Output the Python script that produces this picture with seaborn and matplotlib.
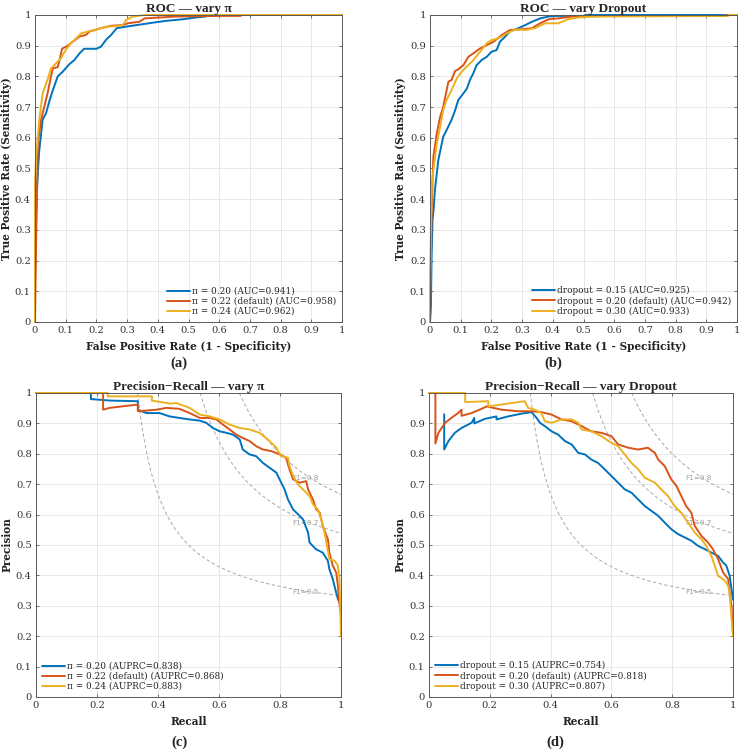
import numpy as np
import pandas as pd
import matplotlib
matplotlib.use('Agg')
import matplotlib.pyplot as plt
import seaborn as sns

# ---- ROC, vary pi ----
roc_pi20_x = [0, 0, 0.003, 0.006, 0.01, 0.014, 0.025, 0.036, 0.047, 0.058, 0.074, 0.09, 0.112, 0.128, 0.145, 0.16, 0.2, 0.215, 0.232, 0.248, 0.266, 0.297, 0.33, 0.384, 0.427, 0.48, 0.525, 0.555, 0.56, 1.0]
roc_pi20_y = [0, 0.15, 0.3, 0.42, 0.5, 0.56, 0.66, 0.68, 0.72, 0.755, 0.80, 0.815, 0.84, 0.853, 0.875, 0.89, 0.89, 0.897, 0.92, 0.935, 0.957, 0.962, 0.967, 0.975, 0.981, 0.986, 0.992, 0.995, 1.0, 1.0]
roc_pi22_x = [0, 0.003, 0.005, 0.007, 0.009, 0.02, 0.03, 0.041, 0.052, 0.058, 0.074, 0.08, 0.088, 0.107, 0.123, 0.145, 0.166, 0.177, 0.215, 0.248, 0.286, 0.302, 0.34, 0.357, 0.46, 0.6, 0.67, 0.672, 1.0]
roc_pi22_y = [0, 0.22, 0.35, 0.45, 0.58, 0.66, 0.70, 0.745, 0.80, 0.826, 0.83, 0.853, 0.89, 0.90, 0.913, 0.93, 0.935, 0.946, 0.957, 0.965, 0.967, 0.973, 0.978, 0.989, 0.995, 0.997, 0.997, 1.0, 1.0]
roc_pi24_x = [0, 0, 0.003, 0.014, 0.025, 0.041, 0.052, 0.068, 0.085, 0.10, 0.117, 0.134, 0.15, 0.172, 0.2, 0.232, 0.27, 0.286, 0.297, 0.318, 0.36, 1.0]
roc_pi24_y = [0, 0.45, 0.53, 0.66, 0.745, 0.79, 0.826, 0.842, 0.86, 0.886, 0.908, 0.924, 0.94, 0.946, 0.953, 0.962, 0.964, 0.967, 0.984, 0.995, 1.0, 1.0]

# ---- ROC, vary dropout ----
roc_do15_x = [0, 0.003, 0.005, 0.008, 0.012, 0.016, 0.027, 0.043, 0.054, 0.07, 0.082, 0.092, 0.109, 0.12, 0.13, 0.141, 0.152, 0.168, 0.185, 0.2, 0.217, 0.228, 0.245, 0.26, 0.288, 0.31, 0.332, 0.359, 0.386, 0.41, 0.5, 0.505, 1.0]
roc_do15_y = [0, 0.05, 0.2, 0.33, 0.37, 0.43, 0.527, 0.603, 0.625, 0.658, 0.69, 0.723, 0.745, 0.76, 0.788, 0.81, 0.837, 0.853, 0.864, 0.88, 0.886, 0.913, 0.93, 0.946, 0.957, 0.967, 0.978, 0.989, 0.995, 0.997, 0.997, 1.0, 1.0]
roc_do20_x = [0, 0.003, 0.005, 0.008, 0.011, 0.022, 0.033, 0.043, 0.051, 0.06, 0.07, 0.082, 0.092, 0.109, 0.125, 0.141, 0.163, 0.185, 0.207, 0.234, 0.26, 0.293, 0.332, 0.359, 0.386, 0.418, 0.462, 0.6, 0.96, 0.962, 1.0]
roc_do20_y = [0, 0.2, 0.35, 0.45, 0.538, 0.614, 0.668, 0.70, 0.74, 0.783, 0.788, 0.818, 0.823, 0.837, 0.864, 0.875, 0.891, 0.902, 0.913, 0.935, 0.951, 0.953, 0.957, 0.973, 0.986, 0.989, 0.995, 0.997, 0.997, 1.0, 1.0]
roc_do30_x = [0, 0, 0.003, 0.006, 0.011, 0.022, 0.033, 0.043, 0.054, 0.07, 0.087, 0.103, 0.12, 0.141, 0.163, 0.185, 0.2, 0.223, 0.25, 0.277, 0.31, 0.342, 0.375, 0.418, 0.45, 0.484, 0.54, 0.97, 0.975, 1.0]
roc_do30_y = [0, 0.1, 0.3, 0.45, 0.495, 0.58, 0.636, 0.69, 0.723, 0.755, 0.793, 0.815, 0.832, 0.853, 0.88, 0.908, 0.918, 0.924, 0.94, 0.953, 0.951, 0.957, 0.973, 0.973, 0.986, 0.992, 0.995, 0.997, 1.0, 1.0]

# ---- PR, vary pi ----
pr_pi20_r = [0, 0.18, 0.18, 0.243, 0.334, 0.334, 0.362, 0.405, 0.438, 0.47, 0.504, 0.537, 0.558, 0.58, 0.602, 0.624, 0.646, 0.668, 0.678, 0.7, 0.722, 0.744, 0.766, 0.788, 0.804, 0.815, 0.826, 0.843, 0.859, 0.875, 0.892, 0.897, 0.918, 0.94, 0.957, 0.962, 0.973, 0.984, 0.99, 1.0]
pr_pi20_p = [1, 1, 0.98, 0.975, 0.973, 0.945, 0.934, 0.934, 0.923, 0.918, 0.913, 0.909, 0.902, 0.885, 0.874, 0.869, 0.863, 0.847, 0.814, 0.798, 0.792, 0.77, 0.754, 0.738, 0.705, 0.683, 0.65, 0.617, 0.601, 0.585, 0.541, 0.508, 0.486, 0.475, 0.448, 0.42, 0.388, 0.344, 0.322, 0.30]
pr_pi22_r = [0, 0.22, 0.22, 0.241, 0.334, 0.334, 0.395, 0.427, 0.47, 0.504, 0.537, 0.57, 0.591, 0.613, 0.635, 0.657, 0.678, 0.7, 0.722, 0.744, 0.771, 0.799, 0.82, 0.831, 0.843, 0.864, 0.886, 0.892, 0.908, 0.919, 0.93, 0.94, 0.957, 0.962, 0.973, 0.984, 0.99, 0.993, 1.0]
pr_pi22_p = [1, 1, 0.945, 0.951, 0.962, 0.94, 0.945, 0.951, 0.948, 0.934, 0.918, 0.918, 0.913, 0.896, 0.88, 0.863, 0.852, 0.842, 0.825, 0.814, 0.809, 0.798, 0.787, 0.749, 0.716, 0.705, 0.71, 0.683, 0.65, 0.617, 0.607, 0.563, 0.519, 0.475, 0.432, 0.41, 0.366, 0.322, 0.27]
pr_pi24_r = [0, 0.235, 0.235, 0.38, 0.38, 0.44, 0.46, 0.504, 0.537, 0.57, 0.602, 0.635, 0.668, 0.7, 0.733, 0.766, 0.788, 0.804, 0.826, 0.831, 0.843, 0.859, 0.875, 0.897, 0.908, 0.924, 0.935, 0.946, 0.954, 0.962, 0.979, 0.99, 0.995, 1.0]
pr_pi24_p = [1, 1, 0.989, 0.989, 0.975, 0.965, 0.967, 0.951, 0.929, 0.923, 0.913, 0.896, 0.885, 0.88, 0.869, 0.842, 0.82, 0.792, 0.787, 0.76, 0.727, 0.699, 0.683, 0.661, 0.634, 0.617, 0.585, 0.541, 0.497, 0.454, 0.448, 0.432, 0.388, 0.20]

# ---- PR, vary dropout ----
pr_do15_r = [0.05, 0.05, 0.064, 0.085, 0.107, 0.14, 0.149, 0.149, 0.184, 0.222, 0.222, 0.26, 0.304, 0.337, 0.354, 0.365, 0.381, 0.403, 0.425, 0.447, 0.469, 0.491, 0.513, 0.534, 0.556, 0.578, 0.6, 0.622, 0.644, 0.666, 0.688, 0.71, 0.732, 0.754, 0.775, 0.797, 0.819, 0.841, 0.863, 0.885, 0.908, 0.929, 0.951, 0.967, 0.978, 0.989, 1.0]
pr_do15_p = [0.93, 0.814, 0.842, 0.869, 0.885, 0.902, 0.918, 0.90, 0.915, 0.923, 0.913, 0.923, 0.932, 0.937, 0.918, 0.902, 0.891, 0.874, 0.863, 0.842, 0.831, 0.803, 0.798, 0.781, 0.77, 0.749, 0.727, 0.705, 0.683, 0.672, 0.65, 0.628, 0.612, 0.596, 0.574, 0.552, 0.536, 0.525, 0.514, 0.497, 0.486, 0.475, 0.464, 0.443, 0.432, 0.399, 0.32]
pr_do20_r = [0.0, 0.021, 0.021, 0.031, 0.053, 0.08, 0.096, 0.107, 0.107, 0.14, 0.173, 0.19, 0.239, 0.294, 0.337, 0.37, 0.403, 0.436, 0.469, 0.502, 0.534, 0.567, 0.6, 0.622, 0.655, 0.688, 0.72, 0.743, 0.754, 0.775, 0.797, 0.814, 0.83, 0.846, 0.863, 0.874, 0.896, 0.918, 0.934, 0.951, 0.967, 0.984, 0.989, 0.995, 1.0]
pr_do20_p = [1.0, 1.0, 0.834, 0.869, 0.902, 0.923, 0.934, 0.945, 0.925, 0.934, 0.948, 0.956, 0.945, 0.94, 0.94, 0.937, 0.929, 0.913, 0.907, 0.891, 0.874, 0.869, 0.858, 0.831, 0.82, 0.814, 0.82, 0.803, 0.781, 0.76, 0.716, 0.694, 0.661, 0.628, 0.606, 0.563, 0.53, 0.508, 0.486, 0.454, 0.41, 0.388, 0.344, 0.30, 0.21]
pr_do30_r = [0, 0.119, 0.119, 0.195, 0.195, 0.239, 0.272, 0.315, 0.326, 0.348, 0.37, 0.381, 0.403, 0.436, 0.469, 0.491, 0.502, 0.534, 0.567, 0.6, 0.622, 0.644, 0.666, 0.688, 0.71, 0.743, 0.764, 0.786, 0.808, 0.83, 0.852, 0.874, 0.896, 0.912, 0.929, 0.94, 0.951, 0.973, 0.984, 0.989, 1.0]
pr_do30_p = [1, 1, 0.97, 0.973, 0.956, 0.962, 0.967, 0.973, 0.951, 0.945, 0.934, 0.907, 0.902, 0.913, 0.913, 0.902, 0.88, 0.874, 0.858, 0.836, 0.825, 0.798, 0.77, 0.749, 0.721, 0.705, 0.683, 0.661, 0.628, 0.606, 0.574, 0.541, 0.519, 0.497, 0.464, 0.432, 0.399, 0.383, 0.366, 0.339, 0.20]

pi_labels_roc = ['π = 0.20 (AUC=0.941)', 'π = 0.22 (default) (AUC=0.958)', 'π = 0.24 (AUC=0.962)']
do_labels_roc = ['dropout = 0.15 (AUC=0.925)', 'dropout = 0.20 (default) (AUC=0.942)', 'dropout = 0.30 (AUC=0.933)']
pi_labels_pr = ['π = 0.20 (AUPRC=0.838)', 'π = 0.22 (default) (AUPRC=0.868)', 'π = 0.24 (AUPRC=0.883)']
do_labels_pr = ['dropout = 0.15 (AUPRC=0.754)', 'dropout = 0.20 (default) (AUPRC=0.818)', 'dropout = 0.30 (AUPRC=0.807)']
f1_levels = [0.5, 0.7, 0.8]

colors = ['#0072BD', '#D95319', '#EDB120']

sns.set_theme(style='whitegrid')
plt.rcParams['font.family'] = ['DejaVu Serif']
plt.rcParams['mathtext.fontset'] = 'dejavuserif'

fig = plt.figure(figsize=(7.4, 7.51), dpi=100)
W, H = 740, 751

def px_axes(l, t, r, b):
    return fig.add_axes([l / W, 1 - b / H, (r - l) / W, (b - t) / H])

ax_a = px_axes(35, 15, 342, 322)
ax_b = px_axes(430, 15, 737, 322)
ax_c = px_axes(36, 393, 341, 697)
ax_d = px_axes(429, 393, 733, 697)

title_font = dict(family='Liberation Serif', weight='bold', size=9.5)
label_font = dict(family='DejaVu Serif', weight='bold', size=7.6)


def style_axes(ax, xticks, title, xlabel, ylabel):
    ax.set_xlim(0, 1)
    ax.set_ylim(0, 1)
    ax.set_xticks(xticks)
    ax.set_yticks(np.arange(0, 1.01, 0.1))
    ax.set_xticklabels(['0' if v == 0 else ('1' if v == 1 else f'{v:g}') for v in xticks])
    ax.set_yticklabels(['0' if v == 0 else ('1' if v == 1 else f'{v:.1f}') for v in np.arange(0, 1.01, 0.1)])
    ax.grid(True, color='#e4e4e4', lw=0.6)
    ax.set_facecolor('white')
    for s in ax.spines.values():
        s.set_visible(True)
        s.set_color('#5a5a5a')
        s.set_linewidth(0.7)
    ax.tick_params(direction='in', length=2.5, width=0.6, colors='#5a5a5a',
                   labelcolor='#333333', labelsize=7.2, pad=3,
                   top=True, right=True, bottom=True, left=True)
    ax.set_title(title, fontdict=title_font, pad=2.5)
    ax.set_xlabel(xlabel, fontdict=label_font, color='#222222')
    ax.set_ylabel(ylabel, fontdict=label_font, color='#222222')


def draw_curves(ax, xs, ys, labels, loc):
    for x, y, c, lab in zip(xs, ys, colors, labels):
        sns.lineplot(x=x, y=y, sort=False, estimator=None, ax=ax, color=c,
                     lw=1.4, label=lab, clip_on=False)
    ax.legend(loc=loc, frameon=False, fontsize=6.4, handlelength=2.6,
              handletextpad=0.15, labelspacing=0.12, borderaxespad=0.4,
              borderpad=0.3)


def draw_f1(ax):
    for f in f1_levels:
        r = np.linspace(f / (2 - f), 1, 200)
        p = f * r / (2 * r - f)
        ax.plot(r, p, ls=(0, (3.5, 2.5)), color='#a8a8a8', lw=0.7, zorder=1)
        ax.text(0.885, f * 0.9 / (1.8 - f), f'F1={f:g}', family='DejaVu Sans',
                size=5.2, color='#a0a0a0', ha='center', va='center', zorder=1)


roc_ticks = np.round(np.arange(0, 1.01, 0.1), 1)
pr_ticks = np.round(np.arange(0, 1.01, 0.2), 1)

draw_curves(ax_a, [roc_pi20_x, roc_pi22_x, roc_pi24_x], [roc_pi20_y, roc_pi22_y, roc_pi24_y],
            pi_labels_roc, 'lower right')
style_axes(ax_a, roc_ticks, 'ROC — vary π', 'False Positive Rate (1 - Specificity)',
           'True Positive Rate (Sensitivity)')

draw_curves(ax_b, [roc_do15_x, roc_do20_x, roc_do30_x], [roc_do15_y, roc_do20_y, roc_do30_y],
            do_labels_roc, 'lower right')
style_axes(ax_b, roc_ticks, 'ROC — vary Dropout', 'False Positive Rate (1 - Specificity)',
           'True Positive Rate (Sensitivity)')

draw_f1(ax_c)
draw_curves(ax_c, [pr_pi20_r, pr_pi22_r, pr_pi24_r], [pr_pi20_p, pr_pi22_p, pr_pi24_p],
            pi_labels_pr, 'lower left')
style_axes(ax_c, pr_ticks, 'Precision\u2212Recall — vary π', 'Recall', 'Precision')

draw_f1(ax_d)
draw_curves(ax_d, [pr_do15_r, pr_do20_r, pr_do30_r], [pr_do15_p, pr_do20_p, pr_do30_p],
            do_labels_pr, 'lower left')
style_axes(ax_d, pr_ticks, 'Precision\u2212Recall — vary Dropout', 'Recall', 'Precision')

# label positions (axes coords: top edge of x label, right edge of y label)
ax_a.xaxis.set_label_coords(0.5, -0.061)
ax_b.xaxis.set_label_coords(0.5, -0.061)
ax_c.xaxis.set_label_coords(0.5, -0.062)
ax_d.xaxis.set_label_coords(0.5, -0.062)
ax_a.yaxis.set_label_coords(-0.074, 0.5)
ax_b.yaxis.set_label_coords(-0.077, 0.5)
ax_c.yaxis.set_label_coords(-0.078, 0.5)
ax_d.yaxis.set_label_coords(-0.078, 0.5)

cap_font = dict(family='Liberation Serif', weight='bold', size=10.5)
fig.text(179 / W, 1 - 363 / H, '(a)', ha='center', va='center', **cap_font)
fig.text(553 / W, 1 - 363 / H, '(b)', ha='center', va='center', **cap_font)
fig.text(179 / W, 1 - 742 / H, '(c)', ha='center', va='center', **cap_font)
fig.text(555 / W, 1 - 742 / H, '(d)', ha='center', va='center', **cap_font)

fig.savefig('out.png', dpi=100)
